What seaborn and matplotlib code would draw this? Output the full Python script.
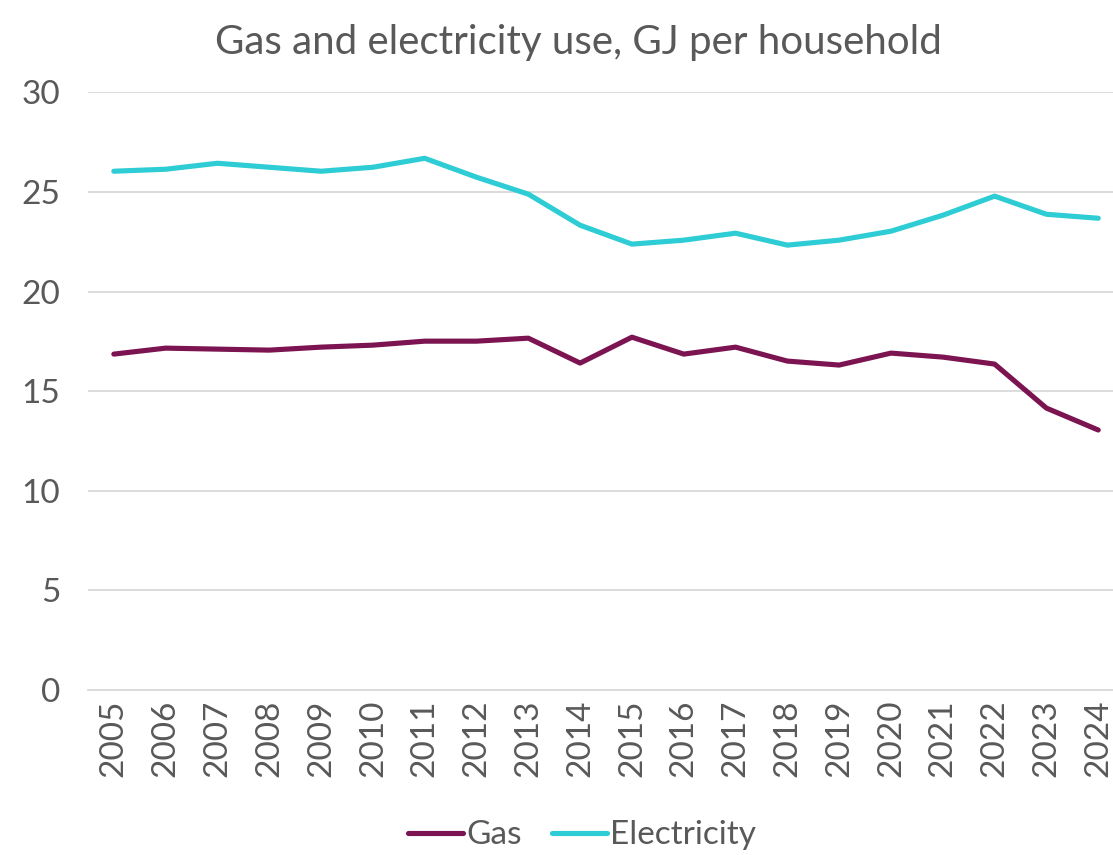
import matplotlib
matplotlib.use("Agg")
import matplotlib.pyplot as plt
import seaborn as sns
import pandas as pd
import numpy as np

# data (GJ per household)
years = list(range(2005, 2025))
gas = [16.86, 17.16, 17.11, 17.06, 17.21, 17.31, 17.51, 17.51, 17.66, 16.41,
       17.71, 16.86, 17.21, 16.51, 16.31, 16.91, 16.71, 16.36, 14.15, 13.05]
electricity = [26.04, 26.14, 26.44, 26.24, 26.04, 26.24, 26.69, 25.74, 24.89, 23.33,
               22.38, 22.58, 22.93, 22.33, 22.58, 23.03, 23.83, 24.79, 23.88, 23.68]

df = pd.DataFrame({
    "Year": years * 2,
    "Value": gas + electricity,
    "Series": ["Gas"] * len(years) + ["Electricity"] * len(years),
})

sns.set_style("white")
plt.rcParams['font.family'] = ['Lato', 'DejaVu Sans']
grey = "#595959"

fig = plt.figure(figsize=(11.13, 8.55), dpi=100)
ax = fig.add_axes([0.079, 0.193, 0.931, 0.699])

sns.lineplot(data=df, x="Year", y="Value", hue="Series",
             palette={"Gas": "#7B1450", "Electricity": "#2ECCD4"},
             linewidth=3.7, ax=ax, legend=False)

ax.set_ylim(0, 30)
ax.set_yticks(range(0, 31, 5))
ax.set_xlim(years[0] - 0.5, years[-1] + 0.5)
ax.set_xticks(years)
ax.set_xticklabels([str(y) for y in years], rotation=90)
ax.set_xticks(np.arange(years[0] - 0.5, years[-1] + 1), minor=True)

ax.yaxis.grid(True, color="#D9D9D9", linewidth=1.3)
ax.set_axisbelow(True)
for s in ["left", "right", "top"]:
    ax.spines[s].set_visible(False)
ax.spines["bottom"].set_color("#D9D9D9")
ax.spines["bottom"].set_linewidth(1.3)

ax.tick_params(axis="y", length=0, labelsize=24, labelcolor=grey, pad=20)
ax.tick_params(axis="x", which="major", length=0, labelsize=24, labelcolor=grey, pad=7)
ax.tick_params(axis="x", which="minor", length=10, width=1.3, color="#D9D9D9")

ax.set_xlabel("")
ax.set_ylabel("")
fig.text(0.52, 0.972, "Gas and electricity use, GJ per household",
         ha="center", va="top", fontsize=29, color=grey)

handles = [plt.Line2D([], [], color="#7B1450", linewidth=3.7),
           plt.Line2D([], [], color="#2ECCD4", linewidth=3.7)]
fig.legend(handles, ["Gas", "Electricity"], loc="center", bbox_to_anchor=(0.523, 0.023),
           ncol=2, frameon=False, fontsize=24, labelcolor=grey,
           handlelength=1.65, handletextpad=0.1, columnspacing=0.9)

plt.savefig("out.png", dpi=100)
plt.close("all")
